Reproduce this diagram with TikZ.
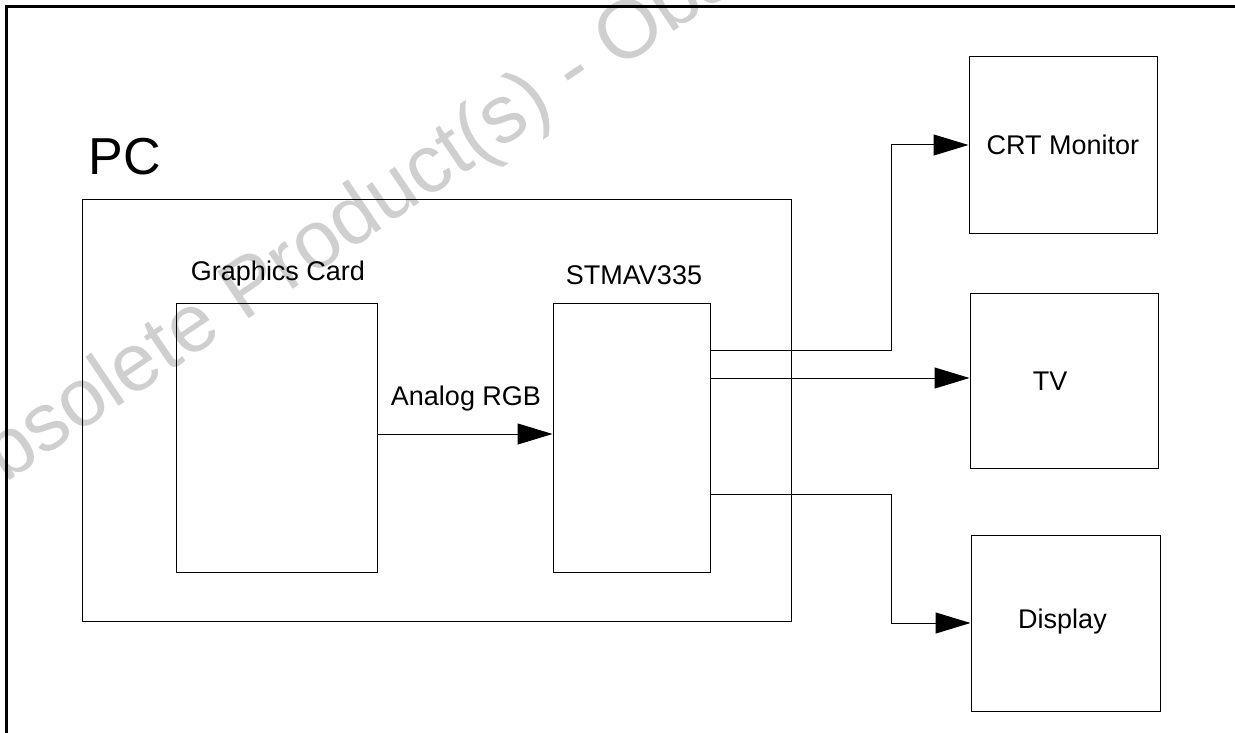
\documentclass[tikz,border=0pt]{standalone}
\usepackage{fontspec}
\setmainfont{Liberation Sans}
\usetikzlibrary{arrows.meta}
\begin{document}
\begin{tikzpicture}[x=1pt,y=-1pt,
  box/.style={draw=black,line width=1pt,inner sep=0pt,minimum width=#1},
  lbl/.style={font=\fontsize{27}{30}\selectfont,inner sep=0pt},
  arr/.style={line width=1pt,-{Triangle[length=35pt,width=21pt]}},
  wire/.style={line width=1pt}]
\useasboundingbox (0,0) rectangle (1235,733);
\clip (0,0) rectangle (1235,733);
% watermark
\node[anchor=base west,rotate=34,text=black!19,inner sep=0pt,
  font=\fontsize{82}{82}\selectfont] (wm) at (-48,519) {Obsolete Product(s) - Obsolete Product(s)};
% frame
\draw[line width=3pt] (6.5,760) -- (6.5,6.5) -- (1260,6.5);
% PC
\node[box=709pt,minimum height=421pt] (pc) at (436.5,410.5) {};
\node[font=\fontsize{52}{56}\selectfont,inner sep=0pt] (pclbl) at (125,157) {PC};
% inner boxes
\node[box=201pt,minimum height=269pt] (gc) at (276.5,437.5) {};
\node[lbl] (gclbl) at (278,274) {Graphics Card};
\node[box=157pt,minimum height=269pt] (stm) at (631.5,437.5) {};
\node[lbl] (stmlbl) at (634,275) {STMAV335};
% outputs
\node[box=188pt,minimum height=176pt,lbl,draw] (crt) at (1063,145) {CRT Monitor};
\node[box=188pt,minimum height=175pt,lbl,draw] (tv) at (1064,380.5) {};
\node[lbl] (tvlbl) at (1050,381) {TV};
\node[box=189pt,minimum height=176pt,lbl,draw] (disp) at (1065.5,623) {};
\node[lbl] (displbl) at (1062.5,622) {Display};
% connectors
\node[lbl] (anlbl) at (466,399) {Analog RGB};
\draw[arr] (gc.east |- 0,434) -- (stm.west |- 0,434);
\draw[arr] (stm.east |- 0,350) -- (891.5,350) |- (crt.west);
\draw[arr] (stm.east |- 0,378) -- (tv.west |- 0,378);
\draw[arr] (stm.east |- 0,494) -- (891.5,494) |- (disp.west);
\end{tikzpicture}
\end{document}
